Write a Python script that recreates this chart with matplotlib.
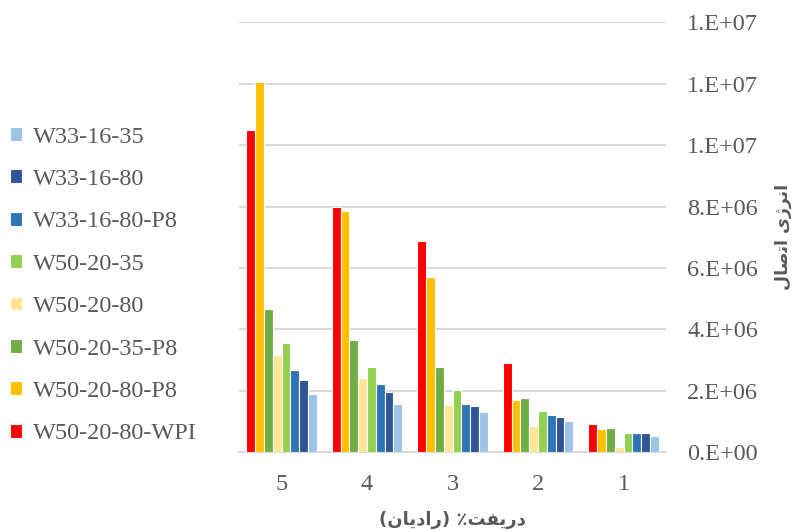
import numpy as np
import matplotlib
matplotlib.use("Agg")
import matplotlib.pyplot as plt
from matplotlib.ticker import FuncFormatter, MultipleLocator

# drift (%) categories, left to right as in the chart
drift = ["5", "4", "3", "2", "1"]

w50_20_80_wpi = [10.49e6, 7.97e6, 6.88e6, 2.92e6, 0.92e6]
w50_20_80_p8 = [12.07e6, 7.86e6, 5.69e6, 1.71e6, 0.74e6]
w50_20_35_p8 = [4.68e6, 3.66e6, 2.78e6, 1.76e6, 0.80e6]
w50_20_80 = [3.17e6, 2.42e6, 1.54e6, 0.86e6, 0.17e6]
w50_20_35 = [3.56e6, 2.78e6, 2.03e6, 1.35e6, 0.64e6]
w33_16_80_p8 = [2.68e6, 2.23e6, 1.58e6, 1.21e6, 0.64e6]
w33_16_80 = [2.36e6, 1.96e6, 1.50e6, 1.15e6, 0.61e6]
w33_16_35 = [1.88e6, 1.57e6, 1.30e6, 1.01e6, 0.53e6]

series = [
    ("W50-20-80-WPI", w50_20_80_wpi, "#FF0000"),
    ("W50-20-80-P8", w50_20_80_p8, "#FFC000"),
    ("W50-20-35-P8", w50_20_35_p8, "#70AD47"),
    ("W50-20-80", w50_20_80, "#FFE699"),
    ("W50-20-35", w50_20_35, "#92D050"),
    ("W33-16-80-P8", w33_16_80_p8, "#2E75B6"),
    ("W33-16-80", w33_16_80, "#2F5597"),
    ("W33-16-35", w33_16_35, "#9DC3E6"),
]

# Persian labels in visual order with presentation forms (no shaping in matplotlib)
ylabel_fa = "\uFEDD\uFE8E\uFEBB\uFE97\uFE8D \uFBFC\uFB8A\uFEAE\uFEE7\uFE8D"  # انرژی اتصال
xlabel_fa = "(\uFEE5\uFE8E\uFBFE\uFEA9\uFE8D\uFEAD) \u066A\uFE96\uFED4\uFBFE\uFEAD\uFEA9"  # دریفت٪ (رادیان)

gray = "#595959"
plt.rcParams["font.family"] = ["Liberation Serif", "DejaVu Serif"]

fig = plt.figure(figsize=(7.96, 5.32), dpi=100)
ax = fig.add_axes([0.300, 0.150, 0.537, 0.808])

x = np.arange(len(drift))
w = 0.103
n = len(series)
bars = []
for i, (name, vals, col) in enumerate(series):
    b = ax.bar(x + (i - (n - 1) / 2) * w, vals, width=w, color=col,
               edgecolor="white", linewidth=0.8, label=name, zorder=3)
    bars.append(b)

ax.set_xlim(-0.5, len(drift) - 0.5)
ax.set_ylim(0, 1.4e7)
ax.yaxis.set_major_locator(MultipleLocator(2e6))
ax.yaxis.set_major_formatter(FuncFormatter(lambda v, p: f"{v:#.0E}"))
ax.yaxis.tick_right()
ax.set_xticks(x)
ax.set_xticklabels(drift)
ax.tick_params(axis="both", length=0, labelsize=17.5, colors=gray)
ax.tick_params(axis="y", pad=15)
ax.tick_params(axis="x", pad=16)
ax.grid(axis="y", color="#D9D9D9", linewidth=1.4, zorder=0)
for s in ["top", "left", "right"]:
    ax.spines[s].set_visible(False)
ax.spines["bottom"].set_color("#D9D9D9")
ax.spines["bottom"].set_linewidth(1.4)

fig.text(0.984, 0.555, ylabel_fa, rotation=90, ha="center", va="center",
         fontsize=12.5, fontweight="bold", color=gray, family="DejaVu Sans")
fig.text(0.568, 0.022, xlabel_fa, ha="center", va="center",
         fontsize=13, fontweight="bold", color=gray, family="DejaVu Sans")

leg = ax.legend(handles=bars[::-1], loc="upper left",
                bbox_to_anchor=(0.012, 0.762), bbox_transform=fig.transFigure,
                frameon=False, fontsize=17.5, labelcolor=gray,
                handlelength=0.5, handleheight=0.5, handletextpad=0.45,
                labelspacing=0.88, borderpad=0, borderaxespad=0)

fig.savefig("out.png", dpi=100)
